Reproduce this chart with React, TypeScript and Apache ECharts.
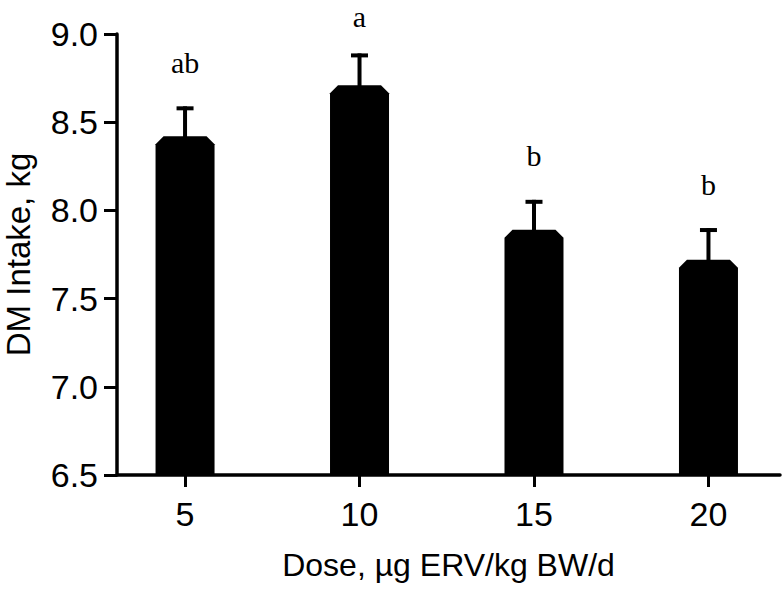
import React, { useEffect, useRef } from "react";
import * as echarts from "echarts";

const doses = ["5", "10", "15", "20"];
const means = [8.42, 8.71, 7.89, 7.72];
const sems = [0.17, 0.18, 0.17, 0.18];
const letters = ["ab", "a", "b", "b"];
const yTicks = [6.5, 7.0, 7.5, 8.0, 8.5, 9.0];

const SANS = "'Liberation Sans', Arial, sans-serif";
const SERIF = "'Liberation Serif', 'Times New Roman', serif";

export default function App() {
  const ref = useRef<HTMLDivElement>(null);
  useEffect(() => {
    if (!ref.current) return;
    const chart = echarts.init(ref.current, undefined, { renderer: "svg" });
    const yMin = yTicks[0];
    const letterSize = 30;
    const option: any = {
      animation: false,
      backgroundColor: "#ffffff",
      grid: {
        left: 117,
        right: 3,
        top: 34,
        bottom: 114,
        containLabel: false,
        outerBoundsMode: "none",
      },
      xAxis: {
        type: "value",
        min: 0.61,
        max: 4.41,
        name: "Dose, µg ERV/kg BW/d",
        nameLocation: "middle",
        nameGap: 74,
        nameTextStyle: { fontFamily: SANS, fontSize: 32, color: "#000" },
        axisLine: { show: true, onZero: false, lineStyle: { color: "#000", width: 3.5 } },
        axisTick: {
          show: true,
          length: 12,
          lineStyle: { color: "#000", width: 3 },
          customValues: doses.map((_, i) => i + 1),
        },
        axisLabel: {
          show: true,
          margin: 22,
          fontFamily: SANS,
          fontSize: 34,
          color: "#000",
          customValues: doses.map((_, i) => i + 1),
          formatter: (v: number) => doses[Math.round(v) - 1] ?? "",
        },
        splitLine: { show: false },
      },
      yAxis: {
        type: "value",
        min: yMin,
        max: yTicks[yTicks.length - 1],
        interval: 0.5,
        name: "DM Intake, kg",
        nameLocation: "middle",
        nameGap: 82,
        nameRotate: 90,
        nameTextStyle: { fontFamily: SANS, fontSize: 33, color: "#000" },
        axisLine: { show: true, onZero: false, lineStyle: { color: "#000", width: 3.5 } },
        axisTick: { show: true, length: 13, lineStyle: { color: "#000", width: 3 } },
        axisLabel: {
          margin: 19,
          fontFamily: SANS,
          fontSize: 34,
          color: "#000",
          formatter: (v: number) => v.toFixed(1),
        },
        splitLine: { show: false },
      },
      series: [
        {
          type: "custom",
          clip: false,
          data: doses.map((_, i) => [i + 1, means[i], sems[i]]),
          encode: { x: 0, y: 1 },
          renderItem: (params: any, api: any) => {
            const xv = api.value(0);
            const m = api.value(1);
            const s = api.value(2);
            const base = api.coord([xv, yMin]);
            const top = api.coord([xv, m]);
            const et = api.coord([xv, m + s]);
            const x = base[0];
            const hw = 29.5;
            const c = 8;
            const lw = 4;
            const capHw = 8.5;
            const ty = Math.max(et[1] - 44, letterSize / 2 + 1);
            return {
              type: "group",
              children: [
                {
                  type: "line",
                  shape: { x1: x, y1: top[1] + 2, x2: x, y2: et[1] },
                  style: { stroke: "#000", lineWidth: lw },
                },
                {
                  type: "line",
                  shape: { x1: x - capHw, y1: et[1] + 2, x2: x + capHw, y2: et[1] + 2 },
                  style: { stroke: "#000", lineWidth: lw },
                },
                {
                  type: "polygon",
                  shape: {
                    points: [
                      [x - hw, base[1]],
                      [x - hw, top[1] + c],
                      [x - hw + c, top[1]],
                      [x + hw - c, top[1]],
                      [x + hw, top[1] + c],
                      [x + hw, base[1]],
                    ],
                  },
                  style: { fill: "#000" },
                },
                {
                  type: "text",
                  x: x,
                  y: ty,
                  style: {
                    text: letters[params.dataIndex],
                    fontFamily: SERIF,
                    fontSize: letterSize,
                    fill: "#000",
                    align: "center",
                    verticalAlign: "middle",
                  },
                },
              ],
            };
          },
        },
      ],
    };
    chart.setOption(option);
    return () => chart.dispose();
  }, []);
  return (
    <div
      ref={ref}
      style={{ position: "fixed", left: 0, top: 0, width: 783, height: 589, background: "#fff" }}
    />
  );
}
